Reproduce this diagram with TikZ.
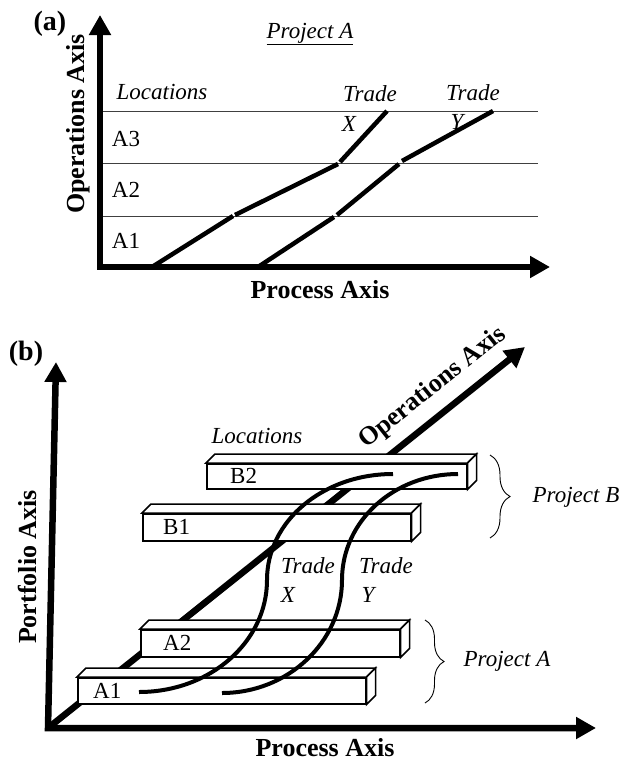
\documentclass[tikz,border=0pt]{standalone}
\usepackage{fontspec}
\setmainfont{Liberation Serif}
\usetikzlibrary{arrows.meta,decorations.pathreplacing}

\tikzset{
  bigaxis/.style={line width=6.5pt, line join=miter, >={Triangle[length=20pt,width=21pt]}},
  axlabel/.style={font=\bfseries\fontsize{26}{30}\selectfont, inner sep=0pt},
  panel/.style={font=\bfseries\fontsize{28}{32}\selectfont, inner sep=0pt},
  txt/.style={font=\fontsize{23}{27}\selectfont, inner sep=0pt},
  itxt/.style={font=\itshape\fontsize{23}{27}\selectfont, inner sep=0pt},
  level/.style={line width=1pt, black!75},
  trade/.style={line width=4.5pt, line cap=butt},
  tradecurve/.style={line width=4pt},
  barline/.style={line width=1.5pt, fill=white, line join=miter},
  barface/.style={draw, line width=1.5pt, fill=white, inner sep=0pt},
  bracket/.style={line width=0.9pt, decorate, decoration={brace, amplitude=#1}},
}

% front face as a node, top and side faces hung on its anchors
\newcommand{\locbar}[6]{%
  \node[barface, minimum width=#3pt, minimum height=#4pt, anchor=north west] (#1) at (#2) {};
  \draw[barline] (#1.north west) -- ++(9,-9) -- ([shift={(9,-9)}]#1.north east) -- (#1.north east) -- cycle;
  \draw[barline] (#1.north east) -- ++(9,-9) -- ([shift={(9,-9)}]#1.south east) -- (#1.south east) -- cycle;
  \node[txt, anchor=west] (#1t) at ([xshift=#6pt]#1.west) {#5};
}

\begin{document}
\begin{tikzpicture}[x=1pt, y=-1pt]
  \useasboundingbox (0,0) rectangle (621,763);

  % ---------------- (a) ----------------
  \node[panel] (pa) at (50,24) {(a)};
  \node[itxt] (proja) at (310,34) {\underline{Project A}};

  \coordinate (ya) at (100,15);
  \coordinate (oa) at (100,267);
  \coordinate (xa) at (550,267);

  \foreach \y/\n in {111/3, 163/2, 216/1} {
    \coordinate (l\n w) at (100,\y);
    \coordinate (l\n e) at (538,\y);
    \draw[level] (l\n w) -- (l\n e);
  }
  \draw[bigaxis, <->] (ya) -- (oa) -- (xa);

  \node[itxt] (loca) at (162,92) {Locations};
  \node[txt] (a3) at (126,139) {A3};
  \node[txt] (a2) at (126,190) {A2};
  \node[txt] (a1) at (126,241) {A1};

  % trade X, one piece per location
  \coordinate (x0) at (152,267);  \coordinate (x1) at (233,216);
  \coordinate (x2) at (235,215);  \coordinate (x3) at (338,164);
  \coordinate (x4) at (340,162);  \coordinate (x5) at (387,111);
  \draw[trade] (x0) -- (x1);
  \draw[trade] (x2) -- (x3);
  \draw[trade] (x4) -- (x5);
  % trade Y
  \coordinate (y0) at (258,267);  \coordinate (y1) at (334,217);
  \coordinate (y2) at (337,215);  \coordinate (y3) at (399,164);
  \coordinate (y4) at (402,161);  \coordinate (y5) at (493,111);
  \draw[trade] (y0) -- (y1);
  \draw[trade] (y2) -- (y3);
  \draw[trade] (y4) -- (y5);

  \node[itxt] (txa) at (370,94) {Trade};
  \node[itxt] (xla) at (349,124) {X};
  \node[itxt] (tya) at (473,93) {Trade};
  \node[itxt] (yla) at (457,122) {Y};

  \node[axlabel, rotate=90] (opa) at (78,124) {Operations Axis};
  \node[axlabel] (pra) at (320,290) {Process Axis};

  % ---------------- (b) ----------------
  \node[panel] (pb) at (26,354) {(b)};

  \coordinate (yb) at (56,362);
  \coordinate (ob) at (48,728);
  \coordinate (xb) at (596,728);
  \coordinate (zb) at (525,347);

  \draw[bigaxis, ->] (ob) -- (zb);

  \locbar{b2}{206,463}{260}{25}{B2}{24}
  \locbar{b1}{142,513}{268}{27}{B1}{21}
  \locbar{a2}{140,629}{259}{27}{A2}{23}
  \locbar{a1}{77,677}{288}{26}{A1}{16}

  \draw[bigaxis, <->] (yb) -- (ob) -- (xb);

  % trades X and Y across the locations
  \coordinate (tx0) at (139,692);  \coordinate (tx1) at (267,580);  \coordinate (tx2) at (393,474);
  \coordinate (ty0) at (222,693);  \coordinate (ty1) at (342,580);  \coordinate (ty2) at (458,474);
  \draw[tradecurve] (tx0) .. controls +(71,0) and +(0,62) .. (tx1)
                          .. controls +(0,-59) and +(-70,0) .. (tx2);
  \draw[tradecurve] (ty0) .. controls +(66,0) and +(0,62) .. (ty1)
                          .. controls +(0,-59) and +(-64,0) .. (ty2);

  \node[itxt] (locb) at (257,436) {Locations};
  \node[itxt] (txb) at (308,566) {Trade};
  \node[itxt] (xlb) at (288,595) {X};
  \node[itxt] (tyb) at (386,566) {Trade};
  \node[itxt] (ylb) at (368,595) {Y};

  % project brackets
  \coordinate (pbt) at (490,455);  \coordinate (pbb) at (490,538);
  \coordinate (pat) at (425,620);  \coordinate (pab) at (425,703);
  \draw[bracket=20] (pbt) -- (pbb);
  \draw[bracket=19] (pat) -- (pab);
  \node[itxt] (projb) at (576,497) {Project B};
  \node[itxt] (projab) at (507,661) {Project A};

  \node[axlabel, rotate=90] (pfb) at (27,567) {Portfolio Axis};
  \node[axlabel, rotate=38.5] (opb) at (433,388) {Operations Axis};
  \node[axlabel] (prb) at (325,748) {Process Axis};
\end{tikzpicture}
\end{document}
